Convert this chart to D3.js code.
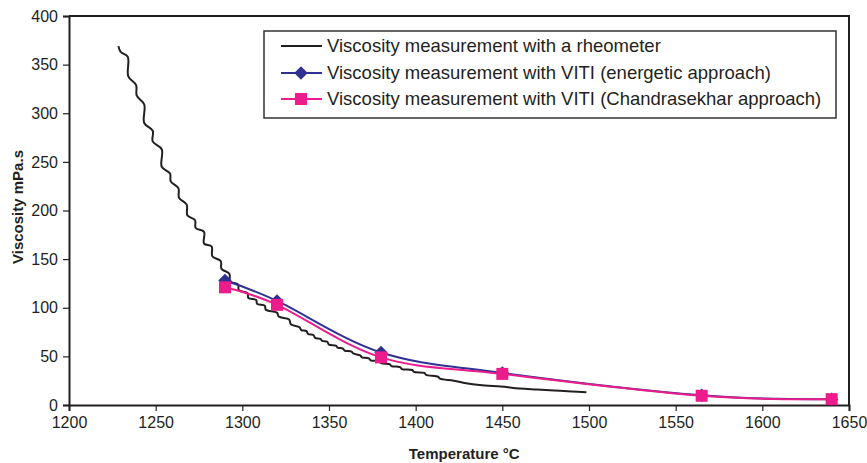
<!DOCTYPE html>
<html>
<head>
<meta charset="utf-8">
<script src="https://cdn.jsdelivr.net/npm/d3@7.9.0/dist/d3.min.js"></script>
<style>
  html, body { margin: 0; padding: 0; background: #fff; }
  svg { display: block; font-family: "Liberation Sans", Arial, sans-serif; }
</style>
</head>
<body>
<svg id="chart" width="867" height="463"></svg>
<script>
// rheometer curve (temperature, viscosity)
const rheoTemp = [1228.5, 1229.8, 1233.9, 1234.2, 1238.7, 1239.1, 1243.4, 1243.4, 1248.3, 1248.3,
  1253.5, 1253.5, 1258.3, 1258.7, 1263.1, 1263.5, 1267.9, 1268.3, 1272.7, 1273.1,
  1277.9, 1277.9, 1282.3, 1282.7, 1287.5, 1288, 1292.5, 1293, 1297.5, 1298,
  1303, 1303.5, 1308, 1308.5, 1313, 1313.5, 1320, 1321, 1327, 1328,
  1333, 1334, 1337, 1338, 1341, 1342, 1345, 1346, 1349, 1350,
  1354, 1355, 1358, 1359, 1363, 1364, 1368, 1369, 1373, 1374,
  1379, 1380, 1385, 1386, 1391, 1392, 1398, 1399, 1405, 1406,
  1413, 1414, 1422, 1430, 1440, 1449, 1460, 1470, 1480, 1490, 1498.5];
const rheoVisc = [369, 363, 358, 338, 329, 318, 309, 290, 282, 271,
  263, 245, 238, 230, 223, 213, 206, 195, 190, 182,
  178, 166, 163, 153, 148, 140, 135, 127, 124, 118,
  115, 110, 108, 104, 102, 98, 95, 91, 88, 83,
  80, 77, 76, 73, 72, 69, 68, 66, 65, 62,
  61, 59, 58, 56, 55, 53, 51, 49, 48, 46,
  45, 43, 42, 40, 39, 37, 36, 34, 33, 31,
  29, 27, 25, 22, 20, 19, 17, 16, 15, 14, 13];

// VITI measurements
const vitiTemp = [1290, 1320, 1380, 1450, 1565, 1640];
const energetic = [128, 107, 54, 33, 10, 6];
const chandrasekhar = [121, 103, 49, 32, 9.5, 6];

const xTicks = [1200, 1250, 1300, 1350, 1400, 1450, 1500, 1550, 1600, 1650];
const yTicks = [0, 50, 100, 150, 200, 250, 300, 350, 400];

const legendLabels = [
  'Viscosity measurement with a rheometer',
  'Viscosity measurement with VITI (energetic approach)',
  'Viscosity measurement with VITI (Chandrasekhar approach)'
];

const ink = '#231f20';
const blue = '#2e3192';
const pink = '#ec1c8c';

const svg = d3.select('#chart');
const margin = { top: 16, right: 18, bottom: 58, left: 69 };
const width = 867 - margin.left - margin.right;
const height = 463 - margin.top - margin.bottom;

const x = d3.scaleLinear().domain([1200, 1650]).range([0, width]);
const y = d3.scaleLinear().domain([0, 400]).range([height, 0]);

const g = svg.append('g').attr('transform', `translate(${margin.left},${margin.top})`);

// frame (top + right)
g.append('path')
  .attr('d', `M0,0H${width}V${height}`)
  .attr('fill', 'none').attr('stroke', ink).attr('stroke-width', 2);

// axes
const xAxis = g.append('g')
  .attr('transform', `translate(0,${height})`)
  .call(d3.axisBottom(x).tickValues(xTicks).tickSize(6).tickPadding(6).tickFormat(d3.format('d')));
const yAxis = g.append('g')
  .call(d3.axisLeft(y).tickValues(yTicks).tickSize(6).tickPadding(5).tickFormat(d3.format('d')));

[xAxis, yAxis].forEach((ax) => {
  ax.select('.domain').attr('stroke', ink).attr('stroke-width', 2);
  ax.selectAll('.tick line').attr('stroke', ink).attr('stroke-width', 1.2);
  ax.selectAll('.tick text')
    .attr('fill', ink)
    .style('font-size', '16px')
    .style('font-family', '"Liberation Sans", Arial, sans-serif');
});

// axis titles
svg.append('text')
  .attr('x', margin.left + x(1428))
  .attr('y', 459)
  .attr('text-anchor', 'middle')
  .attr('fill', ink)
  .style('font-size', '15px')
  .style('font-weight', 'bold')
  .text('Temperature °C');

svg.append('text')
  .attr('transform', 'translate(23,207) rotate(-90)')
  .attr('text-anchor', 'middle')
  .attr('fill', ink)
  .style('font-size', '15px')
  .style('font-weight', 'bold')
  .text('Viscosity mPa.s');

// rheometer line
const rheo = rheoTemp.map((t, i) => [t, rheoVisc[i]]);
g.append('path')
  .datum(rheo)
  .attr('fill', 'none')
  .attr('stroke', ink)
  .attr('stroke-width', 2)
  .attr('stroke-linejoin', 'round')
  .attr('d', d3.line().x((d) => x(d[0])).y((d) => y(d[1])).curve(d3.curveCatmullRom.alpha(0.5)));

// VITI series, smoothed like the spreadsheet lines
const smooth = d3.line().x((d) => x(d[0])).y((d) => y(d[1])).curve(d3.curveCardinal.tension(0));
// diamond = square turned 45 degrees
const diamond = d3.symbol().type(d3.symbolSquare).size(90);

const blueData = vitiTemp.map((t, i) => [t, energetic[i]]);
const pinkData = vitiTemp.map((t, i) => [t, chandrasekhar[i]]);

g.append('path').datum(blueData)
  .attr('fill', 'none').attr('stroke', blue).attr('stroke-width', 2)
  .attr('d', smooth);
g.selectAll('.diamond').data(blueData).join('path')
  .attr('class', 'diamond')
  .attr('transform', (d) => `translate(${x(d[0])},${y(d[1])}) rotate(45)`)
  .attr('d', diamond)
  .attr('fill', blue);

g.append('path').datum(pinkData)
  .attr('fill', 'none').attr('stroke', pink).attr('stroke-width', 2)
  .attr('d', smooth);
g.selectAll('.square').data(pinkData).join('rect')
  .attr('class', 'square')
  .attr('x', (d) => x(d[0]) - 6)
  .attr('y', (d) => y(d[1]) - 6)
  .attr('width', 12).attr('height', 12)
  .attr('fill', pink);

// legend
const legend = svg.append('g').attr('transform', 'translate(264,31)');
legend.append('rect')
  .attr('width', 572).attr('height', 87)
  .attr('fill', '#fff').attr('stroke', '#333').attr('stroke-width', 1.5);

const rowY = [15, 42, 68];
const rowColor = [ink, blue, pink];
legendLabels.forEach((label, i) => {
  const row = legend.append('g').attr('transform', `translate(0,${rowY[i]})`);
  row.append('line')
    .attr('x1', 17).attr('x2', 58)
    .attr('stroke', rowColor[i]).attr('stroke-width', 2);
  if (i === 1) {
    row.append('path').attr('transform', 'translate(37,0) rotate(45)')
      .attr('d', diamond).attr('fill', blue);
  }
  if (i === 2) {
    row.append('rect').attr('x', 31).attr('y', -6).attr('width', 12).attr('height', 12).attr('fill', pink);
  }
  row.append('text')
    .attr('x', 63)
    .attr('dy', '0.35em')
    .attr('fill', ink)
    .style('font-size', '18.5px')
    .text(label);
});
</script>
</body>
</html>
